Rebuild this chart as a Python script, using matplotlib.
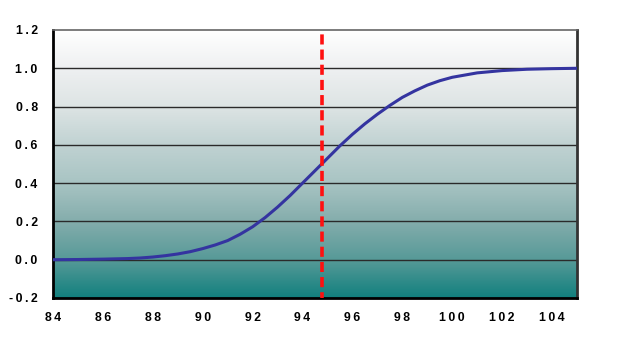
import numpy as np
import matplotlib
matplotlib.use('Agg')
from matplotlib import pyplot as plt
from matplotlib.colors import LinearSegmentedColormap

# 累积分布曲线的读数
x_vals = [84, 85, 86, 87, 87.5, 88, 88.5, 89, 89.5, 90, 90.5, 91, 91.5, 92, 92.5, 93, 93.5,
          94, 94.5, 95, 95.5, 96, 96.5, 97, 97.5, 98, 98.5, 99, 99.5, 100, 101, 102, 103, 104, 105]
y_vals = [0.0, 0.001, 0.003, 0.006, 0.009, 0.014, 0.021, 0.030, 0.042, 0.058, 0.077, 0.100, 0.133,
          0.172, 0.220, 0.275, 0.335, 0.400, 0.465, 0.530, 0.595, 0.655, 0.710, 0.760, 0.806,
          0.848, 0.882, 0.912, 0.935, 0.953, 0.976, 0.988, 0.995, 0.998, 1.0]
cut_x = 94.8

x_ticks = [84, 86, 88, 90, 92, 94, 96, 98, 100, 102, 104]
y_ticks = [-0.2, 0.0, 0.2, 0.4, 0.6, 0.8, 1.0, 1.2]

plt.rcParams['font.family'] = ['Liberation Sans', 'DejaVu Sans']

fig = plt.figure(figsize=(6.32, 3.54), dpi=100)
ax = fig.add_axes([53 / 632, 56 / 354, 524 / 632, 268 / 354])

# 背景渐变：上白下青
cmap = LinearSegmentedColormap.from_list('bg', [
    (0.0, '#12807e'), (1 / 7, '#579a98'), (2 / 7, '#84adac'), (3 / 7, '#a8c4c3'),
    (4 / 7, '#c0d2d2'), (5 / 7, '#dde4e4'), (6 / 7, '#eef0f1'), (1.0, '#ffffff')])
grad = np.linspace(0, 1, 256).reshape(-1, 1)
ax.imshow(grad, cmap=cmap, origin='lower', aspect='auto',
          extent=[84, 105, -0.2, 1.2], zorder=0)

for yt in y_ticks[1:-1]:
    ax.axhline(yt, color='#2a2a2a', lw=1.0, zorder=1)

ax.plot(x_vals, y_vals, color='#3434a0', lw=2.2, zorder=3)
ax.axvline(cut_x, color='#ff1010', lw=2.6, linestyle=(1.2, (2.8, 1.4)), zorder=4)

ax.set_xlim(84, 105)
ax.set_ylim(-0.2, 1.2)


def spaced(s):
    return '\u2009'.join(s)


ax.set_xticks(x_ticks)
ax.set_xticklabels([spaced(str(v)) for v in x_ticks])
ax.set_yticks(y_ticks)
ax.set_yticklabels([spaced('%.1f' % v) for v in y_ticks])
ax.tick_params(axis='both', length=0, labelsize=8.8)
ax.tick_params(axis='x', pad=10)
ax.tick_params(axis='y', pad=11)
for lab in ax.get_xticklabels() + ax.get_yticklabels():
    lab.set_fontweight('bold')

ax.spines['left'].set_color('black')
ax.spines['left'].set_linewidth(2)
ax.spines['bottom'].set_color('black')
ax.spines['bottom'].set_linewidth(2)
ax.spines['right'].set_color('#333333')
ax.spines['right'].set_linewidth(2)
ax.spines['top'].set_color('#666666')
ax.spines['top'].set_linewidth(1.2)

fig.savefig('out.png', dpi=100, facecolor='white')
